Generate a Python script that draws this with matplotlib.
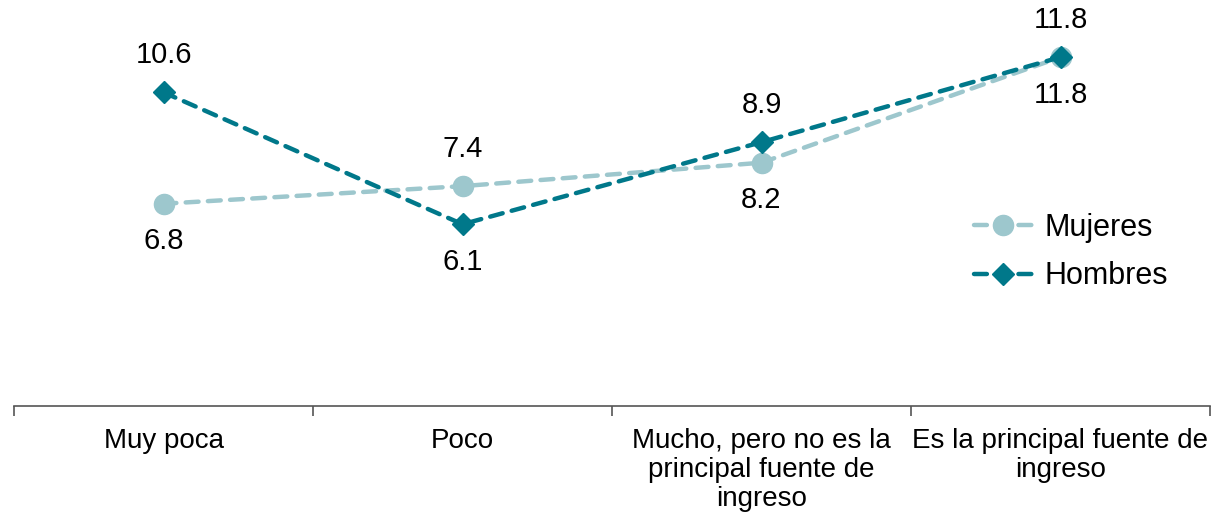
import matplotlib.pyplot as plt
from matplotlib.ticker import FixedLocator, NullFormatter

plt.rcParams['font.family'] = ['Liberation Sans', 'DejaVu Sans']

categories = ['Muy poca', 'Poco', 'Mucho, pero no es la\nprincipal fuente de\ningreso',
              'Es la principal fuente de\ningreso']
mujeres = [6.8, 7.4, 8.2, 11.8]
hombres = [10.6, 6.1, 8.9, 11.8]
mujeres_pos = ['below', 'above', 'below', 'below']
hombres_pos = ['above', 'below', 'above', 'above']

c_muj = '#9dc7cd'
c_hom = '#00788a'

fig = plt.figure(figsize=(12.14, 5.19), dpi=100)
ax = fig.add_axes([14 / 1214, 113 / 519, 1196 / 1214, 406 / 519])

x = list(range(len(categories)))
ax.plot(x, mujeres, color=c_muj, lw=3.2, ls=(0, (2.9, 2.1)), dash_capstyle='round',
        marker='o', ms=14.5, label='Mujeres', zorder=3)
ax.plot(x, hombres, color=c_hom, lw=3.2, ls=(0, (2.9, 2.1)), dash_capstyle='round',
        marker='D', ms=11, label='Hombres', zorder=4)


def annotate(values, positions):
    for xi, v, p in zip(x, values, positions):
        off = 27 if p == 'above' else -27
        ax.annotate('%.1f' % v, (xi, v), xytext=(0, off), textcoords='offset points',
                    ha='center', va='center', fontsize=21)


annotate(mujeres, mujeres_pos)
annotate(hombres, hombres_pos)

ax.set_xlim(-0.5, len(categories) - 0.5)
ax.set_ylim(-0.1, 13.75)
ax.set_yticks([])
for s in ['top', 'right', 'left']:
    ax.spines[s].set_visible(False)
ax.spines['bottom'].set_color('#555555')
ax.spines['bottom'].set_linewidth(1.2)

ax.xaxis.set_major_locator(FixedLocator([i - 0.5 for i in range(len(categories) + 1)]))
ax.xaxis.set_major_formatter(NullFormatter())
ax.xaxis.set_minor_locator(FixedLocator(x))
ax.set_xticklabels(categories, minor=True, fontsize=20, linespacing=1.15)
ax.tick_params(axis='x', which='major', direction='out', length=7, width=1.2, color='#555555')
ax.tick_params(axis='x', which='minor', length=0, pad=16)

ax.legend(loc='center left', bbox_to_anchor=(0.78, 0.379), frameon=False, fontsize=22,
          handlelength=1.9, labelspacing=0.6, handletextpad=0.4)

fig.savefig('out.png', dpi=100)
